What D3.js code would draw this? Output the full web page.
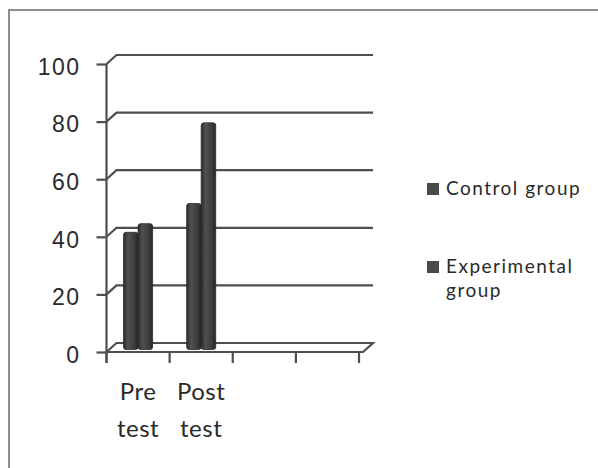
<!DOCTYPE html>
<html>
<head>
<meta charset="utf-8">
<script src="https://cdn.jsdelivr.net/npm/d3@7"></script>
<style>
  html, body { margin: 0; padding: 0; background: #fff; }
  svg { display: block; }
</style>
</head>
<body>
<div id="chart"></div>
<script>
// data
const categories = ["Pre test", "Post test", "", ""];
const series = ["Control group", "Experimental group"];
const controlValues = [40, 50];
const experimentalValues = [43, 78];
const yTicks = [0, 20, 40, 60, 80, 100];

// layout
const width = 598, height = 468;
const depthX = 10, depthY = -9;

const svg = d3.select("#chart").append("svg")
  .attr("width", width)
  .attr("height", height);

// frame (right/bottom edges fall outside the picture)
svg.append("rect")
  .attr("x", 9).attr("y", 10)
  .attr("width", 700).attr("height", 700)
  .attr("fill", "#fff")
  .attr("stroke", "#6a6a6a")
  .attr("stroke-width", 1.5);

const x0 = d3.scaleBand().domain(d3.range(categories.length)).range([106.5, 359]);
const x1 = d3.scaleBand().domain(series)
  .range([x0.bandwidth() * 0.27, x0.bandwidth() * 0.73]);
const y = d3.scaleLinear().domain([0, 100]).range([352, 64]);

const defs = svg.append("defs");
const grad = defs.append("linearGradient").attr("id", "barGrad")
  .attr("x1", "0%").attr("x2", "100%").attr("y1", "0%").attr("y2", "0%");
grad.append("stop").attr("offset", "0%").attr("stop-color", "#2c2c2c");
grad.append("stop").attr("offset", "30%").attr("stop-color", "#505050");
grad.append("stop").attr("offset", "70%").attr("stop-color", "#3e3e3e");
grad.append("stop").attr("offset", "100%").attr("stop-color", "#262626");

const lineColor = "#4e4e4e";
const left = x0.range()[0], right = x0.range()[1];

// back wall gridlines + side wall diagonals
const grid = svg.append("g")
  .attr("fill", "none")
  .attr("stroke", lineColor)
  .attr("stroke-width", 2.2);

yTicks.forEach(t => {
  if (t === 0) return;
  grid.append("path")
    .attr("d", `M${left},${y(t)} L${left + depthX},${y(t) + depthY} L${right + depthX + 4},${y(t) + depthY}`);
});

// floor
grid.append("path")
  .attr("d", `M${left},${y(0)} L${left + depthX},${y(0) + depthY} L${right + depthX + 4},${y(0) + depthY} L${right + 4},${y(0)} Z`);

// y axis
const yAxis = d3.axisLeft(y).tickValues(yTicks).tickSize(10).tickPadding(16);
const yg = svg.append("g")
  .attr("transform", `translate(${left},0)`)
  .call(yAxis);
yg.select(".domain").attr("stroke", lineColor).attr("stroke-width", 2.2)
  .attr("d", `M0,${y(100)}V${y(0) + 11}`);
yg.selectAll(".tick line").attr("stroke", lineColor).attr("stroke-width", 2.2);
yg.selectAll(".tick text")
  .attr("dy", "0.45em")
  .attr("fill", "#2a2a2a")
  .style("font-family", "'Liberation Sans', Arial, sans-serif")
  .style("font-size", "23px")
  .style("letter-spacing", "1.5px");

// x ticks at band edges
const xEdges = d3.range(categories.length + 1).map(i =>
  i < categories.length ? x0(i) : x0(categories.length - 1) + x0.bandwidth());
svg.append("g").selectAll("line")
  .data(xEdges)
  .join("line")
  .attr("x1", d => d).attr("x2", d => d)
  .attr("y1", y(0)).attr("y2", y(0) + 11)
  .attr("stroke", lineColor)
  .attr("stroke-width", 2.2);

// x labels
const xl = svg.append("g")
  .attr("fill", "#2a2a2a")
  .style("font-family", "Lato, 'Noto Sans', sans-serif")
  .style("font-size", "24px")
  .style("letter-spacing", "0.5px");
categories.forEach((c, i) => {
  if (!c) return;
  const words = c.split(" ");
  const t = xl.append("text")
    .attr("text-anchor", "middle")
    .attr("x", x0(i) + x0.bandwidth() / 2)
    .attr("y", 400);
  words.forEach((w, j) => {
    t.append("tspan")
      .attr("x", x0(i) + x0.bandwidth() / 2)
      .attr("dy", j === 0 ? 0 : 37)
      .text(w);
  });
});

// bars (set mid-depth)
const barRows = controlValues.map((v, i) => ({ i, values: [
  { key: series[0], value: v },
  { key: series[1], value: experimentalValues[i] }
]}));

const bars = svg.append("g")
  .selectAll("g")
  .data(barRows)
  .join("g")
  .attr("transform", d => `translate(${x0(d.i)},${depthY / 2})`);

bars.selectAll("rect")
  .data(d => d.values)
  .join("rect")
  .attr("x", d => x1(d.key))
  .attr("y", d => y(d.value))
  .attr("width", x1.bandwidth())
  .attr("height", d => y(0) - y(d.value) + 2)
  .attr("rx", 2.5)
  .attr("fill", "url(#barGrad)")
  .attr("stroke", "#2a2a2a")
  .attr("stroke-width", 0.8);

// legend
const legend = svg.append("g")
  .style("font-family", "Lato, 'Noto Sans', sans-serif")
  .style("font-size", "19px")
  .style("letter-spacing", "1.5px")
  .attr("fill", "#2a2a2a");

const legendY = [195, 273];
series.forEach((s, i) => {
  legend.append("rect")
    .attr("x", 427).attr("y", legendY[i] - 12)
    .attr("width", 12).attr("height", 12)
    .attr("fill", "#4a4a4a");
  const t = legend.append("text").attr("x", 446).attr("y", legendY[i]);
  if (i === 0) {
    t.text(s);
  } else {
    t.append("tspan").attr("x", 446).text("Experimental");
    t.append("tspan").attr("x", 446).attr("dy", 24).text("group");
  }
});
</script>
</body>
</html>
